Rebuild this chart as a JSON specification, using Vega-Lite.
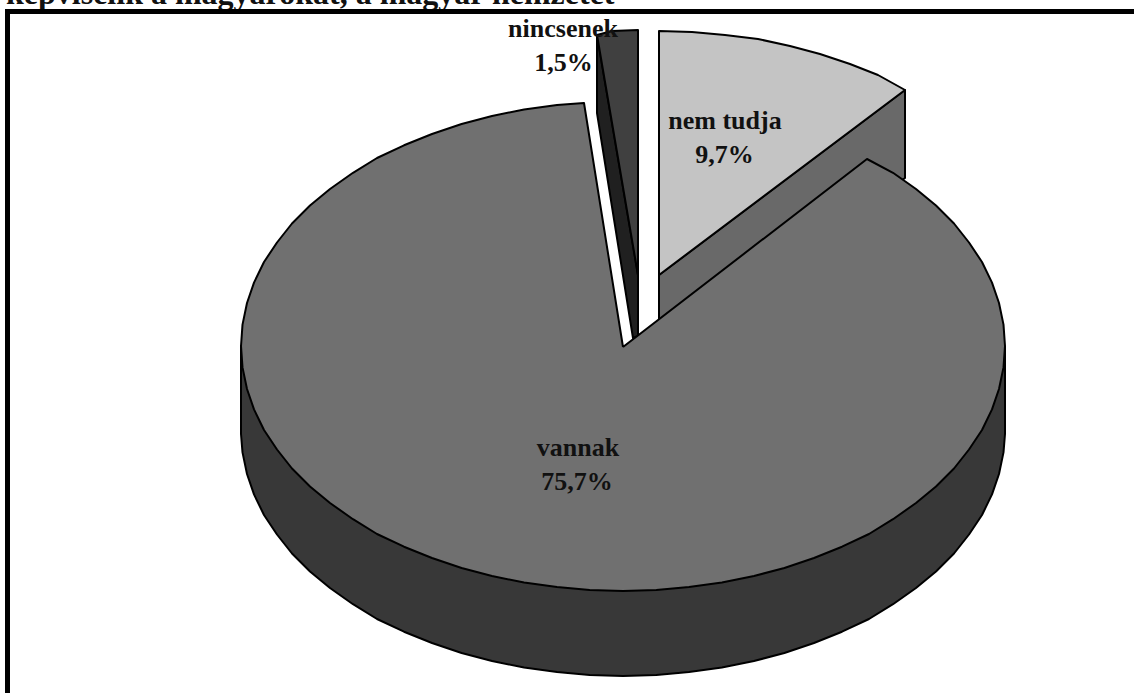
{"$schema":"https://vega.github.io/schema/vega-lite/v6.json","width":1134,"height":693,"padding":0,"autosize":"none","background":"white","view":{"stroke":null},
"datasets":{
"shapes":[
{"p":"a_main_side","o":1,"x":1005,"y":346},{"p":"a_main_side","o":2,"x":1005,"y":434},{"p":"a_main_side","o":3,"x":1003.5,"y":452.4},{"p":"a_main_side","o":4,"x":999,"y":474},{"p":"a_main_side","o":5,"x":992,"y":494.4},{"p":"a_main_side","o":6,"x":982,"y":515},{"p":"a_main_side","o":7,"x":969,"y":534.5},{"p":"a_main_side","o":8,"x":954,"y":553.5},{"p":"a_main_side","o":9,"x":936,"y":571.5},{"p":"a_main_side","o":10,"x":916,"y":588},{"p":"a_main_side","o":11,"x":893,"y":604.2},{"p":"a_main_side","o":12,"x":869,"y":619},{"p":"a_main_side","o":13,"x":842,"y":631.7},{"p":"a_main_side","o":14,"x":814,"y":643},{"p":"a_main_side","o":15,"x":784.4,"y":653},{"p":"a_main_side","o":16,"x":754,"y":661},{"p":"a_main_side","o":17,"x":721.9,"y":667.6},{"p":"a_main_side","o":18,"x":689,"y":672},{"p":"a_main_side","o":19,"x":656.3,"y":675},{"p":"a_main_side","o":20,"x":623,"y":676},{"p":"a_main_side","o":21,"x":589.7,"y":675},{"p":"a_main_side","o":22,"x":557,"y":672},{"p":"a_main_side","o":23,"x":524.1,"y":667.6},{"p":"a_main_side","o":24,"x":492,"y":661},{"p":"a_main_side","o":25,"x":461.6,"y":653},{"p":"a_main_side","o":26,"x":432,"y":643},{"p":"a_main_side","o":27,"x":404,"y":631.7},{"p":"a_main_side","o":28,"x":377,"y":619},{"p":"a_main_side","o":29,"x":353,"y":604.2},{"p":"a_main_side","o":30,"x":330,"y":588},{"p":"a_main_side","o":31,"x":310,"y":571.5},{"p":"a_main_side","o":32,"x":292,"y":553.5},{"p":"a_main_side","o":33,"x":277,"y":534.5},{"p":"a_main_side","o":34,"x":264,"y":515},{"p":"a_main_side","o":35,"x":254,"y":494.4},{"p":"a_main_side","o":36,"x":247,"y":474},{"p":"a_main_side","o":37,"x":242.5,"y":452.4},{"p":"a_main_side","o":38,"x":241,"y":434},{"p":"a_main_side","o":39,"x":241,"y":346},{"p":"a_main_side","o":40,"x":1005,"y":346},
{"p":"b_light_side","o":1,"x":659,"y":275},{"p":"b_light_side","o":2,"x":905,"y":90},{"p":"b_light_side","o":3,"x":905,"y":178},{"p":"b_light_side","o":4,"x":659,"y":360},{"p":"b_light_side","o":5,"x":659,"y":275},
{"p":"c_light_top","o":1,"x":659,"y":275},{"p":"c_light_top","o":2,"x":659,"y":31},{"p":"c_light_top","o":3,"x":692,"y":32},{"p":"c_light_top","o":4,"x":725,"y":35},{"p":"c_light_top","o":5,"x":758,"y":39},{"p":"c_light_top","o":6,"x":790,"y":46},{"p":"c_light_top","o":7,"x":820,"y":54},{"p":"c_light_top","o":8,"x":850,"y":64},{"p":"c_light_top","o":9,"x":878,"y":75},{"p":"c_light_top","o":10,"x":905,"y":90},{"p":"c_light_top","o":11,"x":659,"y":275},
{"p":"d_dark_side","o":1,"x":597,"y":35},{"p":"d_dark_side","o":2,"x":597,"y":113},{"p":"d_dark_side","o":3,"x":633,"y":338},{"p":"d_dark_side","o":4,"x":638,"y":336},{"p":"d_dark_side","o":5,"x":638,"y":275},{"p":"d_dark_side","o":6,"x":597,"y":35},
{"p":"e_dark_top","o":1,"x":597,"y":35},{"p":"e_dark_top","o":2,"x":612,"y":31},{"p":"e_dark_top","o":3,"x":638,"y":30},{"p":"e_dark_top","o":4,"x":638,"y":275},{"p":"e_dark_top","o":5,"x":597,"y":35},
{"p":"f_main_top","o":1,"x":623,"y":347},{"p":"f_main_top","o":2,"x":867,"y":159},{"p":"f_main_top","o":3,"x":893,"y":172.8},{"p":"f_main_top","o":4,"x":916,"y":189},{"p":"f_main_top","o":5,"x":936,"y":205.5},{"p":"f_main_top","o":6,"x":954,"y":223.5},{"p":"f_main_top","o":7,"x":969,"y":242.5},{"p":"f_main_top","o":8,"x":982,"y":262},{"p":"f_main_top","o":9,"x":992,"y":282.6},{"p":"f_main_top","o":10,"x":999,"y":303},{"p":"f_main_top","o":11,"x":1003.5,"y":324.6},{"p":"f_main_top","o":12,"x":1005,"y":346},{"p":"f_main_top","o":13,"x":1003.5,"y":367.4},{"p":"f_main_top","o":14,"x":999,"y":389},{"p":"f_main_top","o":15,"x":992,"y":409.4},{"p":"f_main_top","o":16,"x":982,"y":430},{"p":"f_main_top","o":17,"x":969,"y":449.5},{"p":"f_main_top","o":18,"x":954,"y":468.5},{"p":"f_main_top","o":19,"x":936,"y":486.5},{"p":"f_main_top","o":20,"x":916,"y":503},{"p":"f_main_top","o":21,"x":893,"y":519.2},{"p":"f_main_top","o":22,"x":869,"y":534},{"p":"f_main_top","o":23,"x":842,"y":546.7},{"p":"f_main_top","o":24,"x":814,"y":558},{"p":"f_main_top","o":25,"x":784.4,"y":568},{"p":"f_main_top","o":26,"x":754,"y":576},{"p":"f_main_top","o":27,"x":721.9,"y":582.6},{"p":"f_main_top","o":28,"x":689,"y":587},{"p":"f_main_top","o":29,"x":656.3,"y":590},{"p":"f_main_top","o":30,"x":623,"y":591},{"p":"f_main_top","o":31,"x":589.7,"y":590},{"p":"f_main_top","o":32,"x":557,"y":587},{"p":"f_main_top","o":33,"x":524.1,"y":582.6},{"p":"f_main_top","o":34,"x":492,"y":576},{"p":"f_main_top","o":35,"x":461.6,"y":568},{"p":"f_main_top","o":36,"x":432,"y":558},{"p":"f_main_top","o":37,"x":404,"y":546.7},{"p":"f_main_top","o":38,"x":377,"y":534},{"p":"f_main_top","o":39,"x":353,"y":519.2},{"p":"f_main_top","o":40,"x":330,"y":503},{"p":"f_main_top","o":41,"x":310,"y":486.5},{"p":"f_main_top","o":42,"x":292,"y":468.5},{"p":"f_main_top","o":43,"x":277,"y":449.5},{"p":"f_main_top","o":44,"x":264,"y":430},{"p":"f_main_top","o":45,"x":254,"y":409.4},{"p":"f_main_top","o":46,"x":247,"y":389},{"p":"f_main_top","o":47,"x":242.5,"y":367.4},{"p":"f_main_top","o":48,"x":241,"y":346},{"p":"f_main_top","o":49,"x":242.5,"y":324.6},{"p":"f_main_top","o":50,"x":247,"y":303},{"p":"f_main_top","o":51,"x":254,"y":282.6},{"p":"f_main_top","o":52,"x":264,"y":262},{"p":"f_main_top","o":53,"x":277,"y":242.5},{"p":"f_main_top","o":54,"x":292,"y":223.5},{"p":"f_main_top","o":55,"x":310,"y":205.5},{"p":"f_main_top","o":56,"x":330,"y":189},{"p":"f_main_top","o":57,"x":353,"y":172.8},{"p":"f_main_top","o":58,"x":377,"y":158},{"p":"f_main_top","o":59,"x":404,"y":145.3},{"p":"f_main_top","o":60,"x":432,"y":134},{"p":"f_main_top","o":61,"x":461.6,"y":124},{"p":"f_main_top","o":62,"x":492,"y":116},{"p":"f_main_top","o":63,"x":524.1,"y":109.4},{"p":"f_main_top","o":64,"x":557,"y":105},{"p":"f_main_top","o":65,"x":584,"y":103},{"p":"f_main_top","o":66,"x":623,"y":347}
],
"frame":[{"o":1,"x":7.5,"y":693},{"o":2,"x":7.5,"y":11.5},{"o":3,"x":1134,"y":11.5}],
"labels":[{"t":"nincsenek","x":563,"y":37},{"t":"1,5%","x":563.5,"y":71},{"t":"nem tudja","x":725,"y":129},{"t":"9,7%","x":724.5,"y":163},{"t":"vannak","x":578,"y":456},{"t":"75,7%","x":577,"y":490}],
"title":[{"t":"képviselik a magyarokat, a magyar nemzetet","x":6,"y":4}]
},
"layer":[
{"data":{"name":"title"},"mark":{"type":"text","font":"Liberation Serif","fontWeight":"bold","fontSize":32,"align":"left","baseline":"alphabetic","color":"#111111"},"encoding":{"x":{"field":"x","type":"quantitative","scale":{"domain":[0,1134]},"axis":null},"y":{"field":"y","type":"quantitative","scale":{"domain":[693,0]},"axis":null},"text":{"field":"t"}}},
{"data":{"name":"frame"},"mark":{"type":"line","stroke":"black","strokeWidth":5,"clip":true},"encoding":{"x":{"field":"x","type":"quantitative","scale":{"domain":[0,1134]},"axis":null},"y":{"field":"y","type":"quantitative","scale":{"domain":[693,0]},"axis":null},"order":{"field":"o"}}},
{"data":{"name":"shapes"},"mark":{"type":"line","stroke":"black","strokeWidth":2,"strokeJoin":"round"},"encoding":{"x":{"field":"x","type":"quantitative","scale":{"domain":[0,1134]},"axis":null},"y":{"field":"y","type":"quantitative","scale":{"domain":[693,0]},"axis":null},"order":{"field":"o"},"fill":{"field":"p","type":"nominal","legend":null,"scale":{"domain":["a_main_side","b_light_side","c_light_top","d_dark_side","e_dark_top","f_main_top"],"range":["#383838","#696969","#c4c4c4","#202020","#404040","#707070"]}}}},
{"data":{"name":"labels"},"mark":{"type":"text","font":"Liberation Serif","fontWeight":"bold","fontSize":26,"align":"center","baseline":"alphabetic","color":"#111111"},"encoding":{"x":{"field":"x","type":"quantitative","scale":{"domain":[0,1134]},"axis":null},"y":{"field":"y","type":"quantitative","scale":{"domain":[693,0]},"axis":null},"text":{"field":"t"}}}
]}
